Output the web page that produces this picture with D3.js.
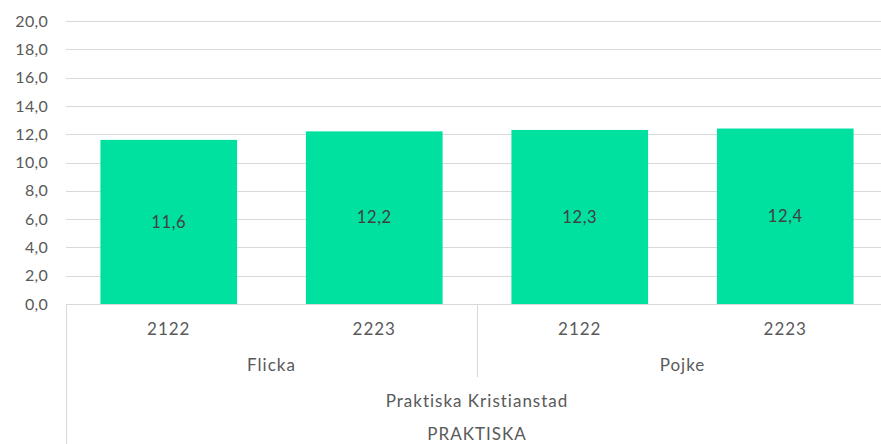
<!DOCTYPE html>
<html><head><meta charset="utf-8">
<script src="https://cdn.jsdelivr.net/npm/d3@7"></script>
<style>html,body{margin:0;padding:0;background:#fff;overflow:hidden}</style>
</head><body>
<svg id="c" width="881" height="444"></svg>
<script>
const groups = ["Flicka","Flicka","Pojke","Pojke"];
const years = ["2122","2223","2122","2223"];
const values = [11.6,12.2,12.3,12.4];
const level2 = ["Flicka","Pojke"];
const level3 = "Praktiska Kristianstad";
const level4 = "PRAKTISKA";
const yTicks = [0,2,4,6,8,10,12,14,16,18,20];

(function(){
const svg = d3.select("#c");
const font = "Lato, 'Open Sans', sans-serif";
const pl = 66, pr = 888, pt = 21, pb = 304;
const x = d3.scaleBand().domain(d3.range(values.length)).range([pl,pr]).paddingInner(0.335).paddingOuter(0.1675);
const y = d3.scaleLinear().domain([0,20]).range([pb,pt]);
const fmt = v => d3.format(".1f")(v).replace(".",",");

svg.append("g").selectAll("line").data(yTicks).join("line")
  .attr("x1",pl).attr("x2",881).attr("y1",d=>Math.round(y(d))+0.5).attr("y2",d=>Math.round(y(d))+0.5)
  .attr("stroke","#d9d9d9").attr("stroke-width",1);
svg.append("g").selectAll("text").data(yTicks).join("text")
  .attr("x",48).attr("y",d=>y(d)).attr("dy","0.35em").attr("text-anchor","end")
  .attr("font-family",font).attr("font-size",16).attr("letter-spacing","0.3px").attr("fill","#595959").text(fmt);
svg.append("g").selectAll("rect").data(values).join("rect")
  .attr("x",(d,i)=>x(i)).attr("width",x.bandwidth())
  .attr("y",d=>y(d)).attr("height",d=>pb-y(d)).attr("fill","#00E1A0");
svg.append("g").selectAll("text").data(values).join("text")
  .attr("x",(d,i)=>x(i)+x.bandwidth()/2).attr("y",d=>(y(d)+pb)/2).attr("dy","0.35em")
  .attr("text-anchor","middle").attr("font-family",font).attr("font-size",16.5).attr("letter-spacing","0.6px").attr("fill","#404040").text(fmt);
const step = x.step();
const ax = svg.append("g").attr("stroke","#d9d9d9").attr("stroke-width",1);
ax.append("line").attr("x1",pl+0.5).attr("x2",pl+0.5).attr("y1",pb).attr("y2",444);
ax.append("line").attr("x1",pl+2*step+0.5).attr("x2",pl+2*step+0.5).attr("y1",pb).attr("y2",377);
ax.append("line").attr("x1",pr+0.5).attr("x2",pr+0.5).attr("y1",pb).attr("y2",444);
const tx = svg.append("g").attr("font-family",font).attr("font-size",17).attr("letter-spacing","1px").attr("fill","#595959").attr("text-anchor","middle");
tx.selectAll("text.yr").data(years).join("text").attr("class","yr")
  .attr("x",(d,i)=>x(i)+x.bandwidth()/2).attr("y",329).attr("dy","0.35em").text(d=>d);
tx.selectAll("text.g").data(level2).join("text").attr("class","g")
  .attr("x",(d,i)=>pl+step*(2*i+1)).attr("y",365).attr("dy","0.35em").text(d=>d);
tx.append("text").attr("x",(pl+pr)/2).attr("y",401).attr("dy","0.35em").text(level3);
tx.append("text").attr("x",(pl+pr)/2).attr("y",434).attr("dy","0.35em").text(level4);
})();
</script>
</body></html>
